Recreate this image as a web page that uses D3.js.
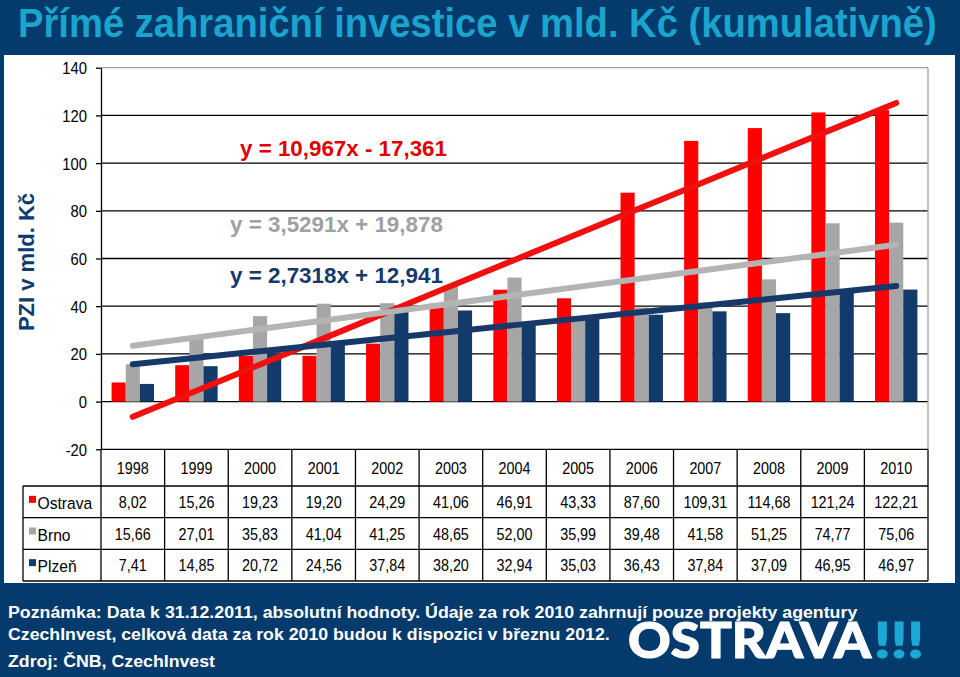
<!DOCTYPE html>
<html><head><meta charset="utf-8">
<script src="https://cdn.jsdelivr.net/npm/d3@7"></script>
<style>html,body{margin:0;padding:0;background:#053a6c;}svg{display:block;}</style>
</head><body>
<script>
// ---- data ----
const years = ["1998","1999","2000","2001","2002","2003","2004","2005","2006","2007","2008","2009","2010"];
const seriesNames = ["Ostrava","Brno","Plzeň"];
const ostrava = [8.02,15.26,19.23,19.20,24.29,41.06,46.91,43.33,87.60,109.31,114.68,121.24,122.21];
const brno = [15.66,27.01,35.83,41.04,41.25,48.65,52.00,35.99,39.48,41.58,51.25,74.77,75.06];
const plzen = [7.41,14.85,20.72,24.56,37.84,38.20,32.94,35.03,36.43,37.84,37.09,46.95,46.97];
const trendSlopes = [10.967,3.5291,2.7318];
const trendIntercepts = [-17.361,19.878,12.941];
const trendLabels = ["y = 10,967x - 17,361","y = 3,5291x + 19,878","y = 2,7318x + 12,941"];
const yTicks = [-20,0,20,40,60,80,100,120,140];
const title = "Přímé zahraniční investice v mld. Kč (kumulativně)";
const yTitle = "PZI v mld. Kč";
const notes = ["Poznámka: Data k 31.12.2011, absolutní hodnoty. Údaje za rok 2010 zahrnují pouze projekty agentury",
               "CzechInvest, celková data za rok 2010 budou k dispozici v březnu 2012.",
               "Zdroj: ČNB, CzechInvest"];

const values = [ostrava, brno, plzen];
const colors = ["#ff0000","#a6a6a6","#123a6b"];
const trendColors = ["#f01010","#b4b4b4","#16396a"];
const labelColors = ["#e00000","#a0a0a0","#16396a"];

const W = 960, H = 677;
const NAVY = "#053a6c";
const FONT = "'Liberation Sans', Arimo, Arial, Helvetica, sans-serif";
const NUMK = 0.87;   // horizontal squeeze of numbers
const LABK = 0.95;   // horizontal squeeze of word labels

const svg = d3.select("body").append("svg").attr("width", W).attr("height", H);
svg.append("rect").attr("width", W).attr("height", H).attr("fill", NAVY);
svg.append("rect").attr("x", 4).attr("y", 55).attr("width", 951).attr("height", 528).attr("fill", "#ffffff");

function fit(sel, width) {
  sel.each(function() {
    const t = d3.select(this);
    const len = this.getComputedTextLength();
    const k = width / len;
    const x = +t.attr("data-x"), y = +t.attr("data-y");
    t.attr("transform", `translate(${x},${y}) scale(${k},1)`);
  });
}
function txt(g, s, x, y, k) {
  const t = g.append("text").text(s).attr("data-x", x).attr("data-y", y).attr("x", 0).attr("y", 0);
  if (k) t.attr("transform", `translate(${x},${y}) scale(${k},1)`);
  return t;
}

// title
const tt = txt(svg, title, 18, 37).attr("font-family", FONT).attr("font-weight", "bold")
  .attr("font-size", 41).attr("fill", "#1aa5cf");
fit(tt, 919);

// scales
const x0 = 101, x1 = 928;
const y = d3.scaleLinear().domain([-20, 140]).range([449.3, 67.7]);
const xb = d3.scaleBand().domain(years).range([x0, x1]).padding(0);
const bw = xb.bandwidth();
const xs = d3.scaleBand().domain(seriesNames).range([bw / 6, bw * 5 / 6]).padding(0);

// gridlines
const grid = svg.append("g");
grid.selectAll("line.g").data(yTicks.filter(v => v >= 0 && v < 140)).join("line")
  .attr("x1", x0).attr("x2", x1).attr("y1", d => y(d)).attr("y2", d => y(d))
  .attr("stroke", "#000").attr("stroke-width", 1.3);
grid.append("line").attr("x1", x0).attr("x2", x1).attr("y1", y(140)).attr("y2", y(140))
  .attr("stroke", "#a0a0a0").attr("stroke-width", 1.3);
grid.append("line").attr("x1", x1).attr("x2", x1).attr("y1", y(140)).attr("y2", y(-20))
  .attr("stroke", "#a0a0a0").attr("stroke-width", 1.3);

// y axis
const yAxis = svg.append("g").attr("transform", `translate(${x0},0)`)
  .call(d3.axisLeft(y).tickValues(yTicks).tickSize(5).tickSizeOuter(0).tickFormat(d => String(d)));
yAxis.select(".domain").attr("stroke", "#000").attr("stroke-width", 1.3);
yAxis.selectAll(".tick line").attr("stroke", "#000").attr("stroke-width", 1.3);
yAxis.selectAll(".tick text").attr("font-family", FONT).attr("font-size", 17).attr("fill", "#000")
  .attr("x", 0).attr("dy", "0.35em").attr("transform", `translate(-14,0) scale(${NUMK},1)`);

// y title
svg.append("text").text(yTitle).attr("font-family", FONT).attr("font-weight", "bold")
  .attr("font-size", 22).attr("fill", "#0d3b6e").attr("text-anchor", "middle")
  .attr("transform", "translate(34,262) rotate(-90)");

// bars
const bars = svg.append("g");
seriesNames.forEach((s, si) => {
  bars.selectAll(null).data(values[si]).join("rect")
    .attr("x", (d, i) => xb(years[i]) + xs(s))
    .attr("width", xs.bandwidth())
    .attr("y", d => y(d))
    .attr("height", d => y(0) - y(d))
    .attr("fill", colors[si]);
});

// trendlines
const trends = svg.append("g");
seriesNames.forEach((s, si) => {
  const pts = years.map((yr, i) => [xb(yr) + bw / 2, y(trendSlopes[si] * (i + 1) + trendIntercepts[si])]);
  trends.append("path").attr("d", d3.line()(pts)).attr("fill", "none")
    .attr("stroke", trendColors[si]).attr("stroke-width", 6).attr("stroke-linecap", "round");
});

// trend labels
const labelPos = [[240, 156, 207], [230, 232, 213], [230, 283, 213]];
trendLabels.forEach((l, i) => {
  const t = txt(svg, l, labelPos[i][0], labelPos[i][1]).attr("font-family", FONT).attr("font-weight", "bold")
    .attr("font-size", 22).attr("fill", labelColors[i]);
  fit(t, labelPos[i][2]);
});

// table
const rowY = [449.3, 486, 517.7, 549.3, 581];
const tab = svg.append("g");
const stroke = s => s.attr("stroke", "#000").attr("stroke-width", 1.3);
stroke(tab.append("line").attr("x1", x0).attr("x2", x1).attr("y1", rowY[0]).attr("y2", rowY[0]));
for (let r = 1; r < rowY.length; r++) {
  stroke(tab.append("line").attr("x1", 23).attr("x2", x1).attr("y1", rowY[r]).attr("y2", rowY[r]));
}
stroke(tab.append("line").attr("x1", 23).attr("x2", 23).attr("y1", rowY[1]).attr("y2", rowY[4]));
years.forEach((yr) => {
  const xx = xb(yr);
  stroke(tab.append("line").attr("x1", xx).attr("x2", xx).attr("y1", rowY[0]).attr("y2", rowY[4]));
});
stroke(tab.append("line").attr("x1", x1).attr("x2", x1).attr("y1", rowY[0]).attr("y2", rowY[4]));

years.forEach((yr) => {
  txt(tab, yr, xb(yr) + bw / 2, (rowY[0] + rowY[1]) / 2 + 6, NUMK)
    .attr("font-family", FONT).attr("font-size", 16.5).attr("text-anchor", "middle").attr("fill", "#000");
});
const fmt = v => d3.format(".2f")(v).replace(".", ",");
seriesNames.forEach((s, si) => {
  const cy = (rowY[si + 1] + rowY[si + 2]) / 2;
  values[si].forEach((v, i) => {
    txt(tab, fmt(v), xb(years[i]) + bw / 2, cy + 6, NUMK)
      .attr("font-family", FONT).attr("font-size", 16.5).attr("text-anchor", "middle").attr("fill", "#000");
  });
  tab.append("rect").attr("x", 29).attr("y", cy - 6).attr("width", 7).attr("height", 7).attr("fill", colors[si]);
  txt(tab, s, 37.5, cy + 7, LABK).attr("font-family", FONT).attr("font-size", 16.5).attr("fill", "#000");
});

// notes
const noteY = [618, 640, 667];
const noteW = [850, 602, 207];
notes.forEach((n, i) => {
  const t = txt(svg, n, 8, noteY[i]).attr("font-family", FONT).attr("font-weight", "bold")
    .attr("font-size", 17).attr("fill", "#ffffff");
  fit(t, noteW[i]);
});

// logo
const logo = txt(svg, "OSTRAVA", 628, 658).attr("font-family", "Lato, 'Open Sans', sans-serif")
  .attr("font-weight", 900).attr("font-size", 50).attr("fill", "#ffffff")
  .attr("stroke", "#ffffff").attr("stroke-width", 1.2);
fit(logo, 243);
const ex = txt(svg, "!!!", 874, 658).attr("font-family", "Lato, 'Open Sans', sans-serif")
  .attr("font-weight", 900).attr("font-size", 50).attr("fill", "#1aa9d4")
  .attr("stroke", "#1aa9d4").attr("stroke-width", 1.2);
fit(ex, 50);
</script>
</body></html>
